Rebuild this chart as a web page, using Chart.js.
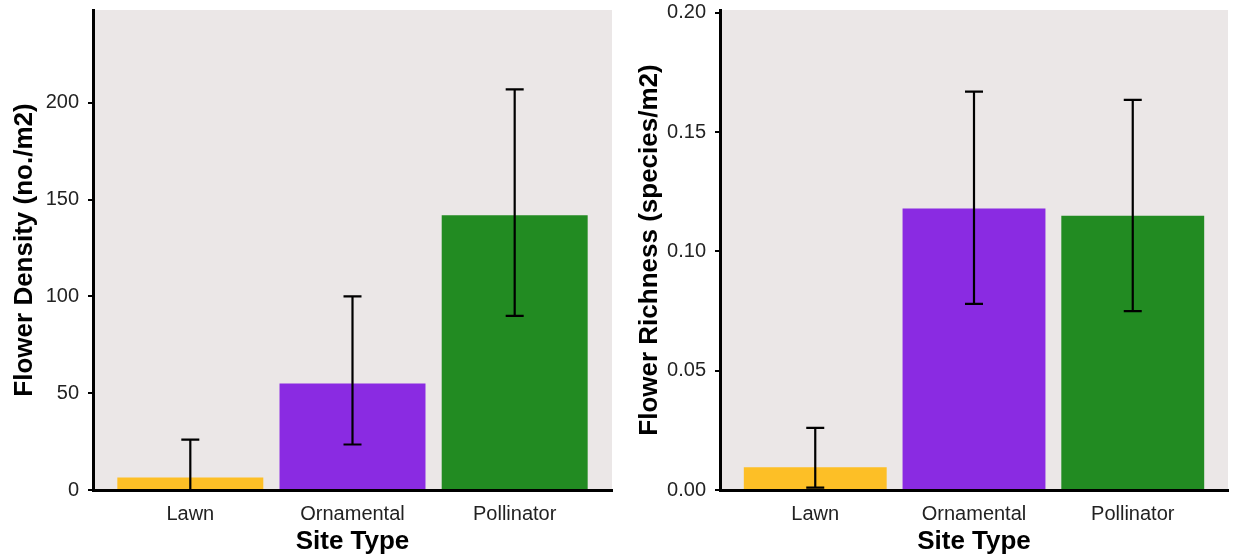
<!DOCTYPE html>
<html>
<head>
<meta charset="utf-8">
<script src="https://cdn.jsdelivr.net/npm/chart.js@4.4.1/dist/chart.umd.min.js"></script>
<style>
  html, body { margin: 0; padding: 0; background: #fff; }
  .panel { position: absolute; top: 0; height: 560px; }
  #left { left: 0; width: 620px; }
  #right { left: 620px; width: 615px; }
</style>
</head>
<body>
<div class="panel" id="left"><canvas id="density-chart"></canvas></div>
<div class="panel" id="right"><canvas id="richness-chart"></canvas></div>
<script>
// data
const sites = ['Lawn', 'Ornamental', 'Pollinator'];
const barColors = ['#fdbf26', '#8a2be2', '#228b22'];

const densityMean = [6.5, 55, 142];
const densityLow = [0, 23.5, 90];
const densityHigh = [26, 100, 207];
const densityTicks = [0, 50, 100, 150, 200];

const richnessMean = [0.0095, 0.118, 0.115];
const richnessLow = [0.001, 0.078, 0.075];
const richnessHigh = [0.026, 0.167, 0.1635];
const richnessTicks = [0, 0.05, 0.10, 0.15, 0.20];

const FONT = "'Liberation Sans', Arial, sans-serif";

/* grey panel behind the bars */
const panelBg = {
    id: 'panelBg',
    beforeDraw(chart) {
        const { ctx, chartArea: a } = chart;
        ctx.save();
        ctx.fillStyle = '#ebe7e7';
        ctx.fillRect(a.left, a.top, a.right - a.left, a.bottom - a.top);
        ctx.restore();
    }
};

/* error bars from low/high arrays */
const errorBars = {
    id: 'errorBars',
    afterDatasetsDraw(chart, args, opts) {
        const { ctx, scales: { x, y } } = chart;
        ctx.save();
        ctx.strokeStyle = '#000';
        ctx.lineWidth = 2.2;
        opts.low.forEach((lo, i) => {
            const px = x.getPixelForValue(i + 1);
            const y0 = y.getPixelForValue(lo);
            const y1 = y.getPixelForValue(opts.high[i]);
            ctx.beginPath();
            ctx.moveTo(px, y0); ctx.lineTo(px, y1);
            ctx.moveTo(px - 9, y0); ctx.lineTo(px + 9, y0);
            ctx.moveTo(px - 9, y1); ctx.lineTo(px + 9, y1);
            ctx.stroke();
        });
        ctx.restore();
    }
};

function makeChart(id, opt) {
    const ctx = document.getElementById(id);
    return new Chart(ctx, {
        type: 'bar',
        data: {
            datasets: [{
                data: opt.mean.map((v, i) => ({ x: i + 1, y: v })),
                backgroundColor: barColors,
                borderWidth: 0,
                barPercentage: 0.9,
                categoryPercentage: 1
            }]
        },
        options: {
            responsive: true,
            maintainAspectRatio: false,
            animation: false,
            layout: { padding: { top: 10, right: opt.padRight, left: 0, bottom: 0 } },
            plugins: {
                legend: { display: false },
                tooltip: { enabled: false },
                errorBars: { low: opt.low, high: opt.high }
            },
            scales: {
                x: {
                    type: 'linear',
                    min: 0.4,
                    max: 3.6,
                    offset: false,
                    z: 1,
                    afterBuildTicks: s => { s.ticks = sites.map((c, i) => ({ value: i + 1 })); },
                    afterFit: s => { s.height = 70; s.paddingLeft = 0; s.paddingRight = 0; },
                    grid: { drawOnChartArea: false, drawTicks: false },
                    border: { color: '#000', width: 3 },
                    ticks: {
                        padding: 12,
                        color: '#222',
                        font: { family: FONT, size: 20 },
                        callback: v => sites[v - 1]
                    },
                    title: {
                        display: true,
                        text: 'Site Type',
                        color: '#000',
                        padding: { top: 3, bottom: 3 },
                        font: { family: FONT, size: 26, weight: 'bold' }
                    }
                },
                y: {
                    min: 0,
                    max: opt.max,
                    z: 1,
                    afterBuildTicks: s => { s.ticks = opt.ticks.map(v => ({ value: v })); },
                    afterFit: s => { s.width = opt.axisWidth; s.paddingTop = 0; s.paddingBottom = 0; },
                    grid: { drawOnChartArea: false, drawTicks: true, tickLength: 5, tickColor: '#000', lineWidth: 2 },
                    border: { color: '#000', width: 3 },
                    ticks: {
                        padding: 9,
                        color: '#222',
                        font: { family: FONT, size: 20 },
                        callback: opt.fmt
                    },
                    title: {
                        display: true,
                        text: opt.title,
                        color: '#000',
                        padding: { top: opt.titlePad, bottom: 0 },
                        font: { family: FONT, size: 26, weight: 'bold' }
                    }
                }
            }
        },
        plugins: [panelBg, errorBars]
    });
}

makeChart('density-chart', {
    mean: densityMean, low: densityLow, high: densityHigh,
    ticks: densityTicks, max: 248, axisWidth: 93, padRight: 8, titlePad: 9,
    title: 'Flower Density (no./m2)',
    fmt: v => String(v)
});

makeChart('richness-chart', {
    mean: richnessMean, low: richnessLow, high: richnessHigh,
    ticks: richnessTicks, max: 0.2012, axisWidth: 100, padRight: 7, titlePad: 14,
    title: 'Flower Richness (species/m2)',
    fmt: v => v.toFixed(2)
});
</script>
</body>
</html>
